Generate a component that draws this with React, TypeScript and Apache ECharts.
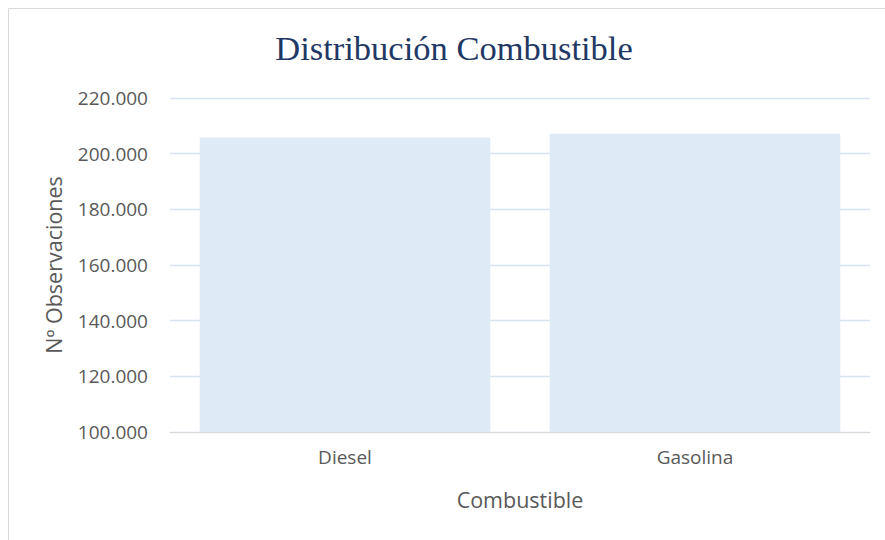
import React, { useEffect, useRef } from "react";
import * as echarts from "echarts";

const categories: string[] = ["Diesel", "Gasolina"];
const observaciones: number[] = [205800, 207200];
const yTicks = { min: 100000, max: 220000, interval: 20000 };

const fmt = (v: number) => {
  const s = Math.round(v).toString();
  return s.replace(/\B(?=(\d{3})+(?!\d))/g, ".");
};

export default function App() {
  const ref = useRef<HTMLDivElement>(null);

  useEffect(() => {
    if (!ref.current) return;
    const chart = echarts.init(ref.current, undefined, { renderer: "svg" });
    chart.setOption({
      animation: false,
      backgroundColor: "#ffffff",
      title: {
        text: "Distribución Combustible",
        left: 449,
        top: 25,
        textAlign: "center",
        textStyle: {
          fontFamily: "'Liberation Serif', 'DejaVu Serif', serif",
          fontSize: 34.5,
          fontWeight: "normal",
          color: "#1F3864",
        },
      },
      graphic: [
        {
          type: "polyline",
          shape: { points: [[8.5, 540], [8.5, 8.5], [885, 8.5]] },
          style: { stroke: "#D9D9D9", lineWidth: 1, fill: "none" },
          silent: true,
        },
      ],
      grid: { left: 170, right: 15, top: 98, bottom: 108 },
      xAxis: {
        type: "category",
        data: categories,
        name: "Combustible",
        nameLocation: "middle",
        nameGap: 56,
        nameTextStyle: {
          fontFamily: "'Open Sans', sans-serif",
          fontSize: 21.5,
          color: "#595959",
        },
        axisLine: { lineStyle: { color: "#D9D9D9", width: 1 } },
        axisTick: { show: false },
        axisLabel: {
          fontFamily: "'Open Sans', sans-serif",
          fontSize: 19,
          color: "#595959",
          margin: 15,
        },
      },
      yAxis: {
        type: "value",
        min: yTicks.min,
        max: yTicks.max,
        interval: yTicks.interval,
        name: "Nº Observaciones",
        nameLocation: "middle",
        nameGap: 106,
        nameTextStyle: {
          fontFamily: "'Open Sans', sans-serif",
          fontSize: 21.5,
          color: "#595959",
        },
        axisLine: { show: false },
        axisTick: { show: false },
        splitLine: { lineStyle: { color: "#D5E3F1", width: 1.3 } },
        axisLabel: {
          fontFamily: "'Open Sans', sans-serif",
          fontSize: 19,
          color: "#595959",
          margin: 22,
          formatter: (v: number) => fmt(v),
        },
      },
      series: [
        {
          type: "bar",
          data: observaciones,
          barCategoryGap: "17%",
          itemStyle: { color: "#DEEAF6" },
        },
      ],
    });
    return () => chart.dispose();
  }, []);

  return (
    <div
      ref={ref}
      style={{ position: "fixed", left: 0, top: 0, width: 885, height: 540 }}
    />
  );
}
